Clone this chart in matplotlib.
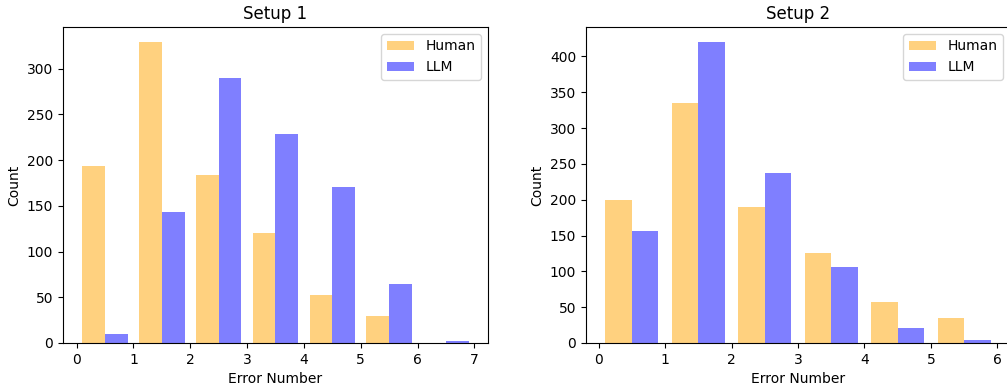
import numpy as np
import matplotlib
matplotlib.use("Agg")
import matplotlib.pyplot as plt

# Setup 1 data
bins1 = [0, 1, 2, 3, 4, 5, 6, 7]
human1 = [193, 329, 184, 120, 53, 30, 0]
llm1 = [10, 143, 290, 228, 171, 65, 2]

# Setup 2 data
bins2 = [0, 1, 2, 3, 4, 5, 6]
human2 = [200, 335, 190, 125, 57, 35]
llm2 = [156, 420, 237, 106, 21, 4]

labels = ["Human", "LLM"]
colors = ["orange", "blue"]
titles = ["Setup 1", "Setup 2"]

W, H = 1007, 385
fig = plt.figure(figsize=(W / 100, H / 100), dpi=100)

ax1 = fig.add_axes([63 / W, 1 - 343 / H, (488 - 63) / W, (343 - 27) / H])
ax2 = fig.add_axes([586 / W, 1 - 343 / H, (1010 - 586) / W, (343 - 27) / H])

for ax, bins, hum, llm, title in [(ax1, bins1, human1, llm1, titles[0]),
                                  (ax2, bins2, human2, llm2, titles[1])]:
    edges = np.array(bins, dtype=float)
    centers = (edges[:-1] + edges[1:]) / 2
    ax.hist([centers, centers], bins=edges, weights=[hum, llm],
            color=colors, alpha=0.5, label=labels)
    ax.set_title(title, fontsize=12)
    ax.set_xlabel("Error Number")
    ax.set_ylabel("Count")
    ax.legend(loc="upper right")

fig.savefig("out.png", dpi=100)
